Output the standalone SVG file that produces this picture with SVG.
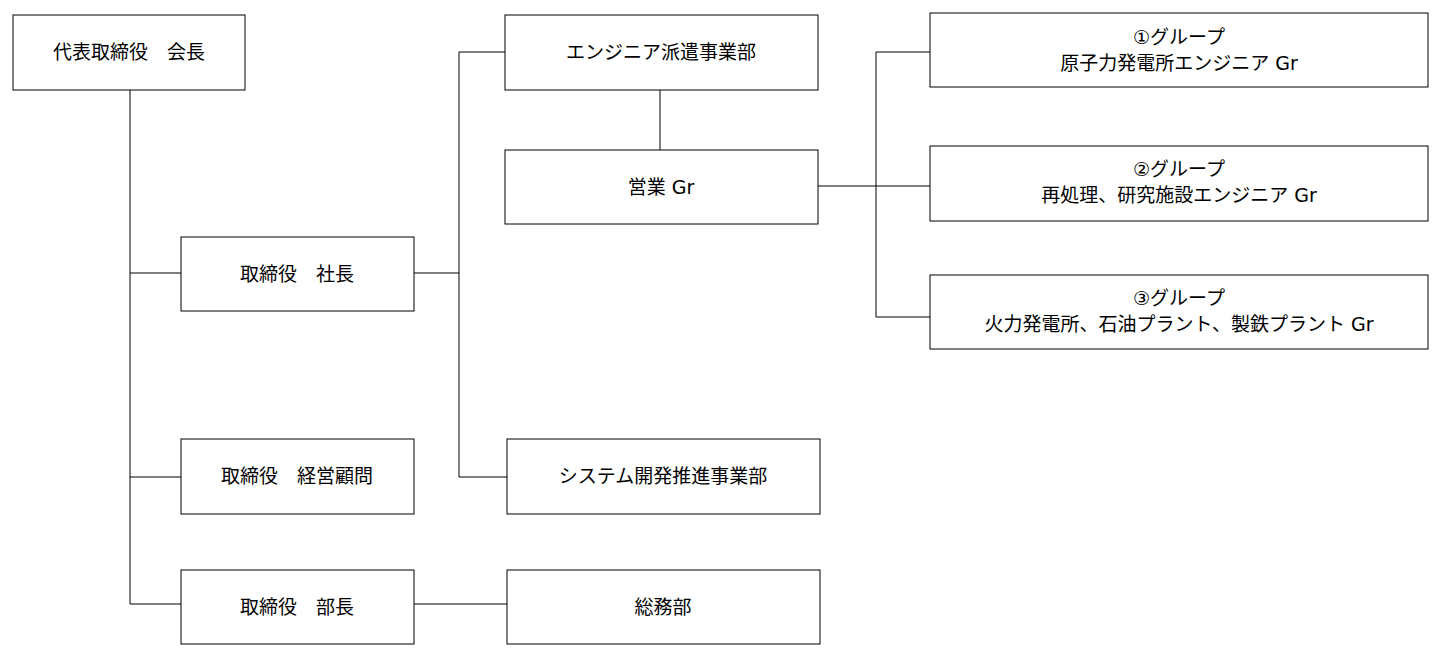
<svg xmlns="http://www.w3.org/2000/svg" width="1448" height="662" viewBox="0 0 1448 662">
<style>
rect{fill:#fff;stroke:#000;stroke-width:1}
text{font-family:"DejaVu Sans","Noto Sans CJK JP",sans-serif;font-size:19px;text-anchor:middle;fill:#000}
.c{stroke:#000;stroke-width:1;fill:none}
</style>
<rect width="1448" height="662" style="stroke:none"/>
<g id="connectors">
<path class="c" d="M130 90V604M130 273H181M130 477H181M130 604H181"/>
<path class="c" d="M414 273H459M459 52V477M459 52H505M459 477H507"/>
<path class="c" d="M660 90V150"/>
<path class="c" d="M818 186H930M876 52V317M876 52H930M876 317H930"/>
<path class="c" d="M414 604H507"/>
</g>
<g id="n1"><rect x="13" y="15" width="232" height="75"/><text x="129" y="59">代表取締役　会長</text></g>
<g id="n2"><rect x="181" y="237" width="233" height="74"/><text x="297" y="281">取締役　社長</text></g>
<g id="n3"><rect x="181" y="439" width="233" height="75"/><text x="297" y="483">取締役　経営顧問</text></g>
<g id="n4"><rect x="181" y="570" width="233" height="74"/><text x="297" y="614">取締役　部長</text></g>
<g id="n5"><rect x="505" y="15" width="313" height="75"/><text x="661" y="59">エンジニア派遣事業部</text></g>
<g id="n6"><rect x="505" y="150" width="313" height="74"/><text x="661" y="194">営業 Gr</text></g>
<g id="n7"><rect x="507" y="439" width="313" height="75"/><text x="663" y="483">システム開発推進事業部</text></g>
<g id="n8"><rect x="507" y="570" width="313" height="74"/><text x="663" y="614">総務部</text></g>
<g id="n9"><rect x="930" y="13" width="498" height="74"/><text x="1179" y="44">①グループ</text><text x="1179" y="70">原子力発電所エンジニア Gr</text></g>
<g id="n10"><rect x="930" y="146" width="498" height="75"/><text x="1179" y="176">②グループ</text><text x="1179" y="202">再処理、研究施設エンジニア Gr</text></g>
<g id="n11"><rect x="930" y="275" width="498" height="74"/><text x="1179" y="305">③グループ</text><text x="1179" y="331">火力発電所、石油プラント、製鉄プラント Gr</text></g>
</svg>
